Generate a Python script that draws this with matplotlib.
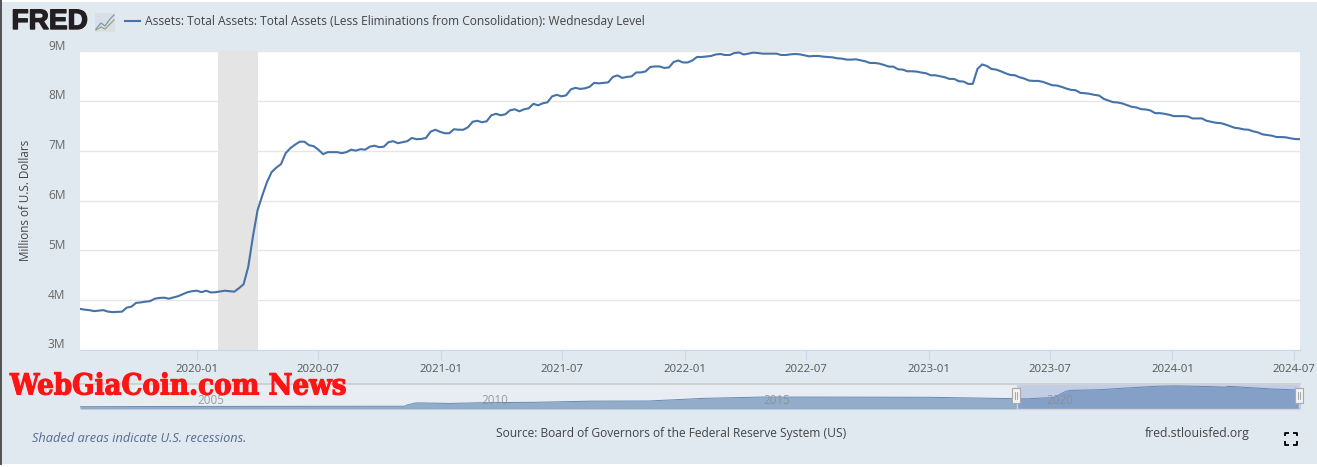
import matplotlib
matplotlib.use("Agg")
import matplotlib.pyplot as plt
import matplotlib.dates as mdates
import matplotlib.patheffects as pe
import pandas as pd
from matplotlib.lines import Line2D
from matplotlib.patches import Rectangle
from matplotlib.transforms import ScaledTranslation

# weekly level, millions of US dollars -> in M
part_2019 = [3.825, 3.81, 3.80, 3.78, 3.79, 3.80, 3.77, 3.76, 3.765, 3.77, 3.85, 3.87, 3.945, 3.955, 3.97, 3.98,
             4.03, 4.045, 4.05, 4.03, 4.055, 4.08, 4.12, 4.16, 4.18, 4.19, 4.16, 4.19, 4.155, 4.16, 4.175, 4.19,
             4.18, 4.17, 4.24, 4.32, 4.67, 5.28, 5.81, 6.10, 6.37, 6.57, 6.66]
part_2020 = [6.73, 6.95, 7.05, 7.12, 7.18, 7.18, 7.11, 7.09, 7.02, 6.93, 6.97, 6.97, 6.97, 6.95, 6.97, 7.02,
             7.0, 7.03, 7.02, 7.08, 7.10, 7.07, 7.08, 7.17, 7.19, 7.15, 7.17, 7.19, 7.255, 7.23, 7.235, 7.255,
             7.38, 7.42, 7.38, 7.35, 7.35, 7.43, 7.42, 7.42, 7.47, 7.58, 7.60, 7.57, 7.59, 7.71, 7.74]
part_2021 = [7.71, 7.73, 7.81, 7.83, 7.79, 7.83, 7.85, 7.94, 7.91, 7.95, 7.97, 8.09, 8.12, 8.09, 8.11, 8.23,
             8.26, 8.24, 8.25, 8.28, 8.36, 8.35, 8.36, 8.37, 8.48, 8.51, 8.46, 8.48, 8.49, 8.57, 8.57, 8.59,
             8.68, 8.69, 8.69, 8.66, 8.67, 8.78, 8.81, 8.77, 8.77, 8.81, 8.88, 8.88, 8.89, 8.90, 8.93, 8.94,
             8.92, 8.92, 8.96, 8.97]
part_2022 = [8.93, 8.947, 8.967, 8.96, 8.947, 8.947, 8.947, 8.947, 8.92, 8.92, 8.933, 8.94, 8.933, 8.913, 8.893,
             8.90, 8.90, 8.887, 8.88, 8.873, 8.853, 8.847, 8.827, 8.827, 8.833, 8.813, 8.793, 8.76, 8.76, 8.747,
             8.72, 8.687, 8.687, 8.633, 8.627, 8.593, 8.593, 8.587, 8.567, 8.553, 8.513, 8.513, 8.493, 8.473,
             8.44, 8.44, 8.393, 8.387, 8.34, 8.34, 8.64, 8.73, 8.70]
part_2023 = [8.64, 8.627, 8.593, 8.553, 8.52, 8.513, 8.473, 8.447, 8.407, 8.40, 8.40, 8.38, 8.347, 8.313, 8.307,
             8.28, 8.247, 8.22, 8.213, 8.16, 8.153, 8.14, 8.12, 8.107, 8.04, 8.007, 7.973, 7.967, 7.947, 7.913,
             7.88, 7.867, 7.833, 7.827, 7.807, 7.753, 7.753, 7.74, 7.72, 7.693, 7.693, 7.693, 7.687, 7.647,
             7.647, 7.647, 7.60, 7.58, 7.56, 7.553, 7.527, 7.493, 7.46, 7.447, 7.427, 7.42, 7.387, 7.367,
             7.327, 7.313, 7.30, 7.273, 7.273, 7.267, 7.247, 7.233, 7.23]
values = part_2019 + part_2020 + part_2021 + part_2022 + part_2023
dates = pd.date_range("2019-07-10", periods=len(values), freq="7D")

# long overview in the navigator strip
nav_years = [2002.97, 2005, 2007, 2008.7, 2008.75, 2008.9, 2009, 2009.5, 2010, 2011, 2012, 2013, 2014, 2015, 2016,
             2017, 2018, 2019, 2019.7, 2020, 2020.18, 2020.3, 2020.38, 2020.45, 2021, 2021.5, 2022, 2022.3, 2023,
             2023.19, 2023.25, 2024, 2024.52]
nav_values = [0.72, 0.82, 0.87, 0.90, 1.4, 2.2, 2.2, 2.0, 2.25, 2.45, 2.9, 2.95, 4.0, 4.5, 4.48, 4.45, 4.4, 4.05,
              3.8, 4.17, 4.3, 5.8, 6.7, 7.1, 7.4, 8.1, 8.75, 8.96, 8.55, 8.34, 8.7, 7.7, 7.23]

tick_dates = ["2020-01-01", "2020-07-01", "2021-01-01", "2021-07-01", "2022-01-01", "2022-07-01",
              "2023-01-01", "2023-07-01", "2024-01-01", "2024-07-01"]
y_ticks = [3, 4, 5, 6, 7, 8, 9]

W, H = 1317, 467
BG = "#e1e9f0"
BLUE = "#4572a7"
plt.rcParams["font.family"] = ["Open Sans", "DejaVu Sans"]


def fx(x):
    return x / W


def fy(y):
    return 1 - y / H


def box(x0, y0, x1, y1):
    return [fx(x0), fy(y1), (x1 - x0) / W, (y1 - y0) / H]


def frect(x0, y0, x1, y1, **kw):
    fig.add_artist(Rectangle((fx(x0), fy(y1)), (x1 - x0) / W, (y1 - y0) / H, transform=fig.transFigure, **kw))


def fline(xs, ys, **kw):
    fig.add_artist(Line2D([fx(v) for v in xs], [fy(v) for v in ys], transform=fig.transFigure, **kw))


fig = plt.figure(figsize=(W / 100, H / 100), dpi=100, facecolor=BG)
frect(0, 0, W, 2, color="white", lw=0)
frect(0, 464, W, H, color="white", lw=0)
frect(0, 0, 2, 465, color="#555555", lw=0)

# main chart
ax = fig.add_axes(box(80, 51, 1300, 350))
ax.set_facecolor("white")
ax.plot(dates, values, color=BLUE, lw=1.5, solid_joinstyle="round", zorder=3)
ax.axvspan(pd.Timestamp("2020-02-01"), pd.Timestamp("2020-04-01"), color="#e4e4e4", lw=0, zorder=2)
ax.set_xlim(pd.Timestamp("2019-07-10"), pd.Timestamp("2024-07-10"))
ax.set_ylim(3, 9)
ax.set_yticks(y_ticks)
ax.set_yticklabels([f"{v}M" for v in y_ticks], fontsize=8.6, color="#666666", va="bottom")
ax.set_xticks([mdates.date2num(pd.Timestamp(d)) for d in tick_dates])
ax.set_xticklabels([d[:7] for d in tick_dates], fontsize=8.2, color="#555555")
ax.tick_params(axis="y", length=0, pad=10.5)
ax.tick_params(axis="x", length=7.2, width=0.8, color="#ccd6eb", pad=3)
ax.grid(axis="y", color="#e6e6e6", lw=1, zorder=1)
ax.set_axisbelow(True)
for side in ["top", "right", "left"]:
    ax.spines[side].set_visible(False)
ax.spines["bottom"].set_color("#ccd6eb")
for t in ax.get_xticklabels():
    t.set_clip_on(False)
down = ScaledTranslation(0, -1.5 / 100, fig.dpi_scale_trans)
for t in ax.get_yticklabels():
    t.set_transform(t.get_transform() + down)
fig.text(fx(26), fy(200), "Millions of U.S. Dollars", rotation=90, ha="center", va="center",
         fontsize=8.4, color="#444444")

# navigator strip
nav = fig.add_axes(box(80, 384, 1300, 409))
nav.set_facecolor("#e8edf3")
nav.fill_between(nav_years, nav_values, -0.18, color="#92acc9", lw=0, zorder=2)
nav.plot(nav_years, nav_values, color=BLUE, lw=0.7, alpha=0.8, zorder=3)
nav.set_xlim(2002.97, 2024.52)
nav.set_ylim(-0.18, 9.62)
nav.set_xticks([])
nav.set_yticks([])
for side in nav.spines:
    nav.spines[side].set_visible(False)
nav.axvspan(2019.53, 2024.52, color="#6685c2", alpha=0.3, lw=0, zorder=4)
fline([80, 1300], [384, 384], color="#cccccc", lw=1.2)
fline([1017, 1017, 1299, 1299, 1017], [384, 409, 409, 384, 384], color="#cfd2d8", lw=1)
for x, label in zip([211, 495, 777, 1060], ["2005", "2010", "2015", "2020"]):
    fig.text(fx(x), fy(401), label, ha="center", va="center", fontsize=8.4, color="#8a8f96", alpha=0.85, zorder=6)
for x in [1016, 1299]:
    frect(x - 4, 388, x + 4, 403, facecolor="#f2f2f2", edgecolor="#a9a9a9", lw=0.8, zorder=7)
    fline([x - 1, x - 1], [392, 399], color="#999999", lw=0.6, zorder=8)
    fline([x + 1, x + 1], [392, 399], color="#999999", lw=0.6, zorder=8)

# header
fig.text(fx(11.5), fy(22), "FRED", ha="left", va="center", fontsize=20.2, fontweight="bold",
         family="Liberation Sans", color="#231f20",
         path_effects=[pe.withStroke(linewidth=1.0, foreground="#231f20")])
frect(95, 13, 115, 32, color="#d9dfe5", lw=0)
fline([96, 101, 105, 110, 114], [29, 23, 26, 19, 15], color="#7f97b5", lw=0.9)
fline([96, 101, 105, 110, 114], [30, 27, 29, 24, 20], color="#90a878", lw=0.9)
fline([125, 140], [21, 21], color=BLUE, lw=1.5)
fig.text(fx(145), fy(22), "Assets: Total Assets: Total Assets (Less Eliminations from Consolidation): Wednesday Level",
         ha="left", va="center", fontsize=8.65, color="#444444")

# footer
fig.text(fx(32), fy(438.5), "Shaded areas indicate U.S. recessions.", ha="left", va="center", fontsize=9.2,
         style="italic", color="#556b91")
fig.text(fx(496), fy(433.5), "Source: Board of Governors of the Federal Reserve System (US)", ha="left", va="center",
         fontsize=8.65, color="#444444")
fig.text(fx(1145), fy(433.5), "fred.stlouisfed.org", ha="left", va="center", fontsize=8.8, color="#444444")

# fullscreen icon
for xs, ys in [([1285, 1285, 1289], [436, 432.5, 432.5]), ([1293, 1297, 1297], [432.5, 432.5, 436]),
               ([1285, 1285, 1289], [441, 444.5, 444.5]), ([1293, 1297, 1297], [444.5, 444.5, 441])]:
    fline(xs, ys, color="black", lw=1.3, solid_capstyle="butt")

# watermark
fig.text(fx(10), fy(386), "WebGiaCoin.com News", ha="left", va="center", fontsize=21, fontweight="bold",
         family="DejaVu Serif", stretch="condensed", color="#ff1414", zorder=9,
         path_effects=[pe.withStroke(linewidth=0.8, foreground="#ff1414")])

fig.savefig("out.png", dpi=100, facecolor=BG)
